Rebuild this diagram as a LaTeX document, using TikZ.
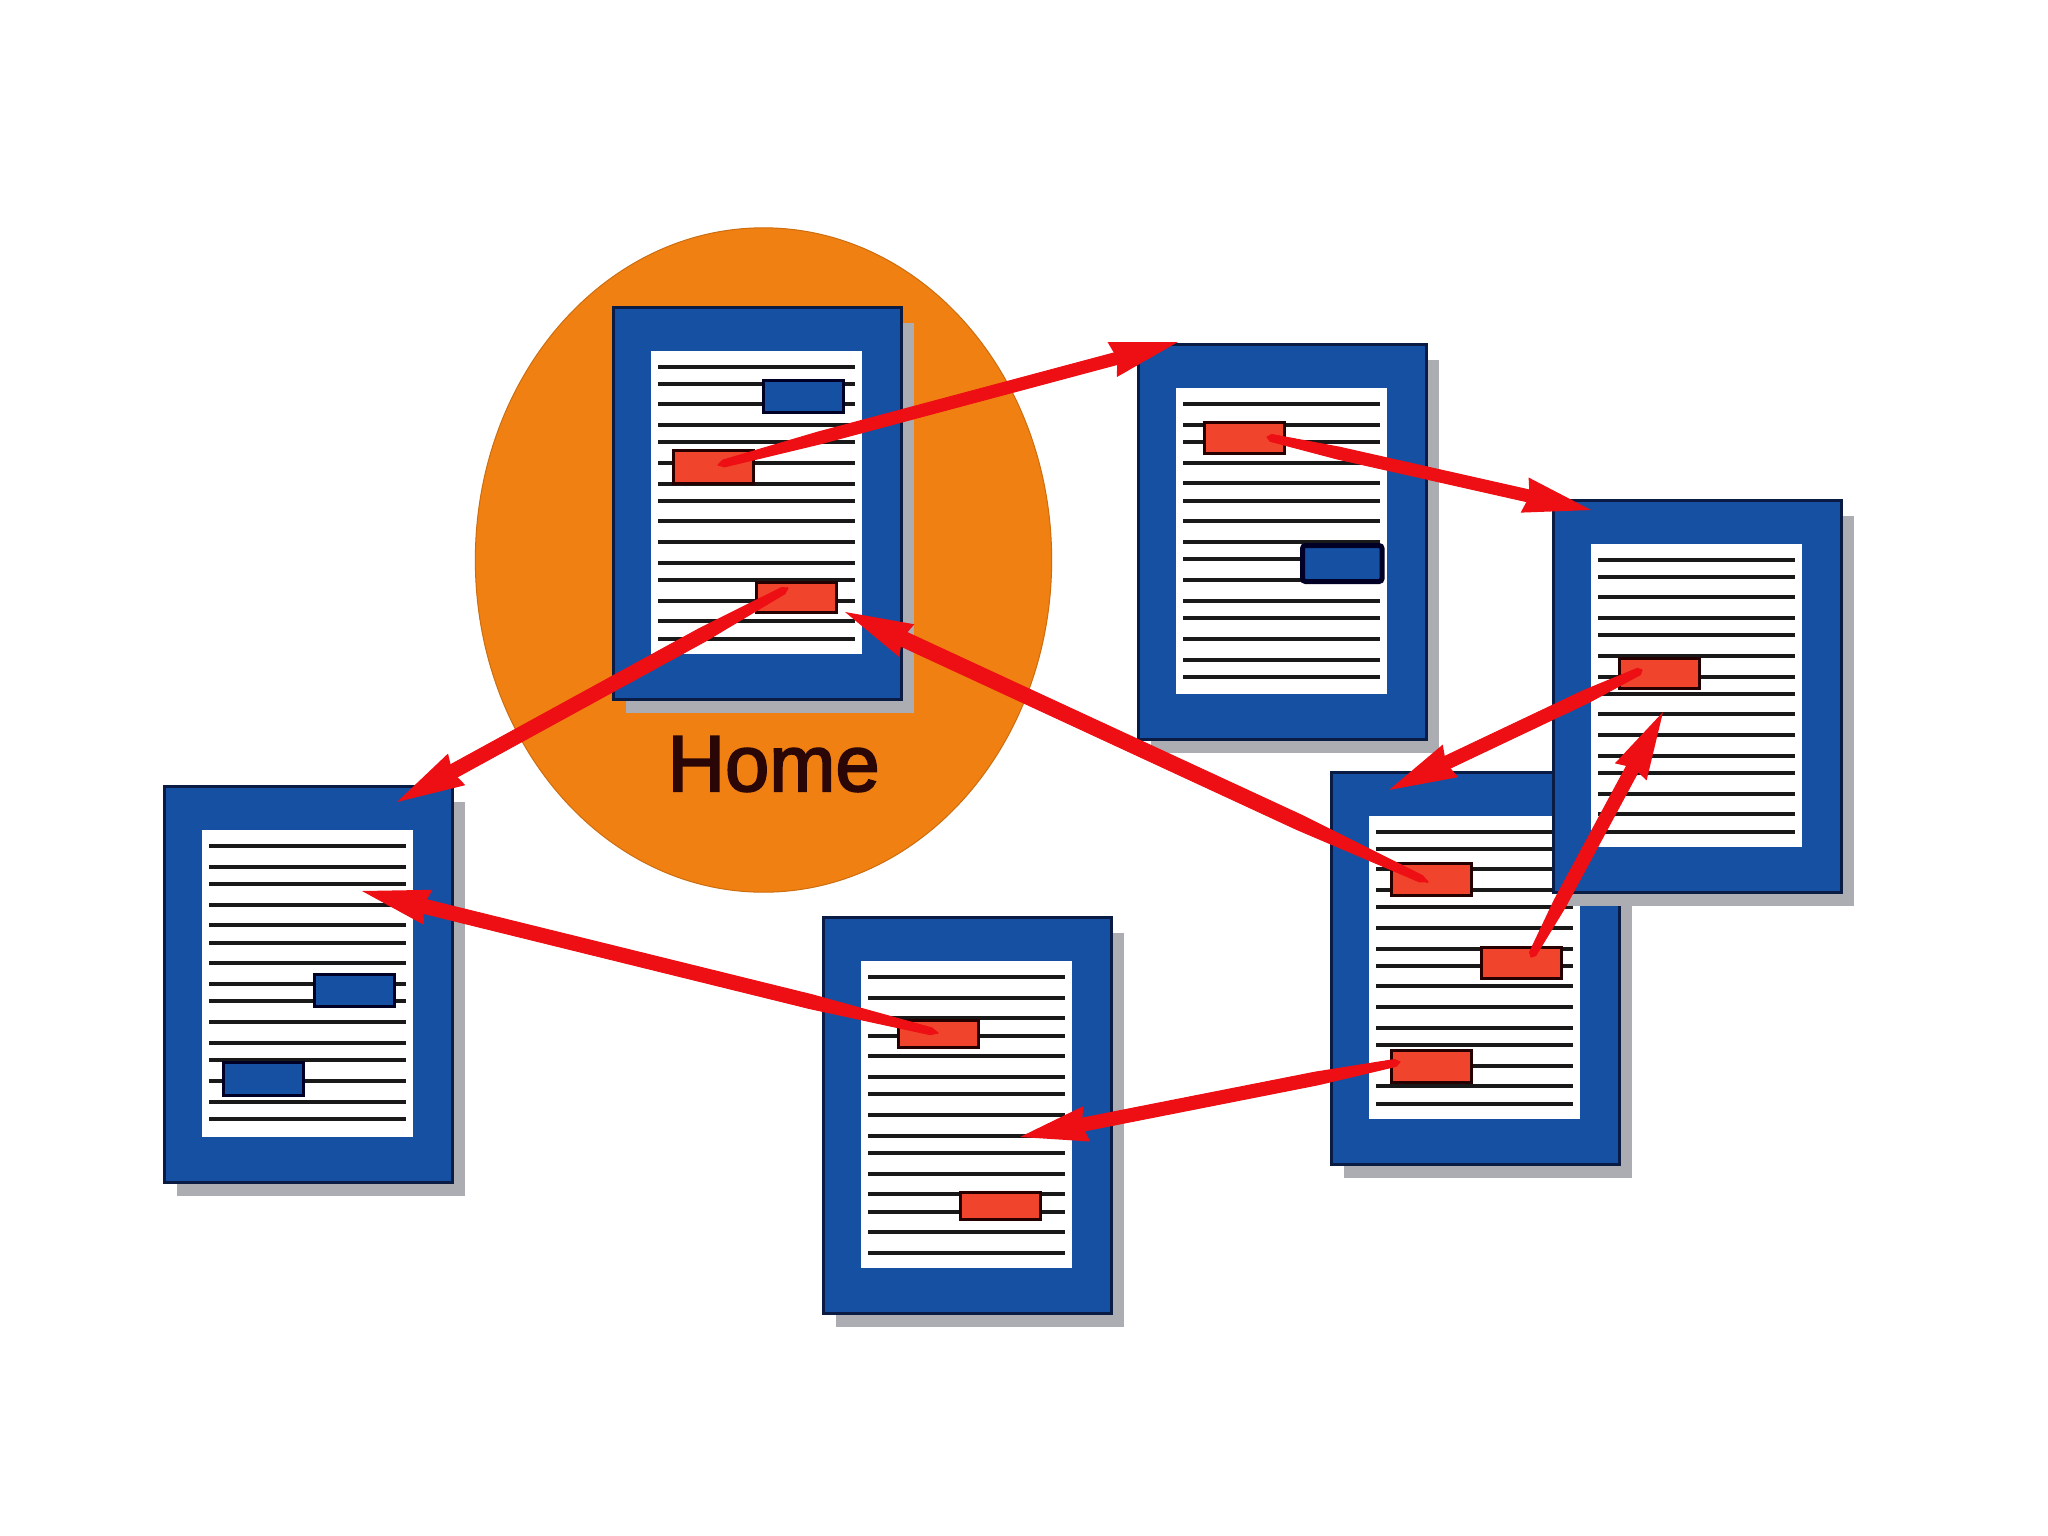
\documentclass[tikz,border=0pt]{standalone}
\usepackage{fontspec}
\setmainfont{Liberation Sans}
\newfontfamily\homefont[FakeBold=2.5]{Liberation Sans}
\usetikzlibrary{arrows.meta,calc,shapes.geometric}
\definecolor{zone}{HTML}{F08012}
\definecolor{framecol}{HTML}{1550A3}
\definecolor{framedge}{HTML}{0A1C44}
\definecolor{shadowcol}{HTML}{ACADB2}
\definecolor{btnredcol}{HTML}{F0452C}
\definecolor{linkcol}{HTML}{EE0F14}
\definecolor{inkcol}{HTML}{2A0606}
\tikzset{
  homezone/.style={ellipse,fill=zone,draw=zone!85!black,line width=.01cm,inner sep=0,minimum width=5.76cm,minimum height=6.64cm},
  sheet/.style={fill=framecol,draw=framedge,line width=.03cm},
  shade/.style={fill=shadowcol},
  paper/.style={fill=white},
  textrule/.style={draw=black!90,line width=.036cm},
  btnred/.style={rectangle,fill=btnredcol,draw=black!85!red,line width=.03cm,inner sep=0,minimum width=.795cm,anchor=north west},
  btnblue/.style={rectangle,fill=framecol,draw=black!85!blue,line width=.03cm,inner sep=0,minimum width=.795cm,anchor=north west},
  linktip/.style={draw=linkcol,line width=.02cm,-{Stealth[length=.68cm,width=.36cm,inset=.05cm,line width=0pt]}},
  linkbody/.style={fill=linkcol,line join=round,draw=linkcol,line width=.01cm},
  homelabel/.style={inner sep=0,anchor=base west,text=inkcol,font=\homefont\fontsize{22.6}{27}\selectfont}
}
% x, y, height (px), line positions
\newcommand{\webdoc}[4]{%
  \begin{scope}[shift={(#1,#2)}]
    \fill[shade] (13,16) rectangle (301,#3+14);
    \draw[sheet] (0,0) rectangle (288,#3);
    \fill[paper] (38,44) rectangle (249,#3-45);
    \foreach \ly in #4 {\draw[textrule] (45,\ly) -- (242,\ly);}
  \end{scope}}
\newcommand{\redlink}[3]{%
  \draw[linktip] (#1) -- (#2);
  \path ($(#2)!.6cm!(#1)$) coordinate (lkn) ($(#1)!.22!(#2)$) coordinate (lkm)
        ($(#1)!.012!(#2)$) coordinate (lkt);
  \fill[linkbody] (#1) -- ($(lkt)!.035cm!90:(#1)$) -- ($(lkm)!#3!90:(#1)$) -- ($(lkn)!#3!90:(#1)$) -- ($(lkn)!#3!-90:(#1)$) -- ($(lkm)!#3!-90:(#1)$) -- ($(lkt)!.035cm!-90:(#1)$) -- cycle;}
\def\typeA{60,77,97,118,135,156,177,194,214,235,256,273,294,314,332}
\def\typeB{60,81,98,119,139,157,177,198,215,236,257,274,295,316,333}
\def\typeC{60,81,101,119,139,160,177,198,219,236,257,277,295,315,336}
\begin{document}
\begin{tikzpicture}[x=.01cm,y=-.01cm]
\useasboundingbox (0,0) rectangle (2048,1536);
\fill[white] (0,0) rectangle (2048,1536);

\node[homezone] (zonehome) at (763.5,560) {};

% Home
\webdoc{613}{307}{392}{\typeA}
\node[btnblue,minimum height=.32cm] (homeblue) at (762,379) {};
\node[btnred,minimum height=.33cm] (homeredtop) at (672,449) {};
\node[btnred,minimum height=.30cm] (homeredlow) at (755,581) {};
\node[homelabel] (homelabel) at (667,791) {Home};

% second page
\webdoc{1138}{344}{395}{\typeB}
\node[btnred,minimum height=.31cm] (pagetwored) at (1203,421) {};
\node[btnblue,minimum height=.36cm,rounded corners=.03cm,line width=.05cm] (pagetwoblue) at (1300,543) {};

% fourth page (lies below the third)
\webdoc{1331}{772}{392}{\typeA}
\node[btnred,minimum height=.32cm] (pagefourtop) at (1390,862) {};
\node[btnred,minimum height=.31cm] (pagefourmid) at (1480,946) {};
\node[btnred,minimum height=.32cm] (pagefourlow) at (1390,1049) {};

% third page
\webdoc{1553}{500}{392}{\typeA}
\node[btnred,minimum height=.30cm] (pagethreered) at (1618,657) {};

% fifth page
\webdoc{823}{917}{396}{\typeC}
\node[btnred,minimum height=.27cm] (pagefivetop) at (897,1019) {};
\node[btnred,minimum height=.27cm] (pagefivelow) at (959,1191) {};

% sixth page
\webdoc{164}{786}{396}{\typeB}
\node[btnblue,minimum height=.315cm] (pagesixtop) at (313,973) {};
\node[btnblue,minimum height=.33cm] (pagesixlow) at (222,1061) {};

% link ends
\coordinate (aOne) at (718,465);      \coordinate (bOne) at (1178,342);
\coordinate (aTwo) at (1267,437);     \coordinate (bTwo) at (1591,510);
\coordinate (aThree) at (1642,670);   \coordinate (bThree) at (1389,790);
\coordinate (aFour) at (1531,957);    \coordinate (bFour) at (1663,712);
\coordinate (aFive) at (1428,882);    \coordinate (bFive) at (845,612);
\coordinate (aSix) at (1400,1062);    \coordinate (bSix) at (1020,1137);
\coordinate (aSeven) at (938,1033);   \coordinate (bSeven) at (362,891);
\coordinate (aEight) at (788,588);    \coordinate (bEight) at (397,802);

\redlink{aOne}{bOne}{.06cm}
\redlink{aTwo}{bTwo}{.06cm}
\redlink{aThree}{bThree}{.065cm}
\redlink{aFour}{bFour}{.065cm}
\redlink{aFive}{bFive}{.075cm}
\redlink{aSix}{bSix}{.065cm}
\redlink{aSeven}{bSeven}{.07cm}
\redlink{aEight}{bEight}{.07cm}
\end{tikzpicture}
\end{document}
